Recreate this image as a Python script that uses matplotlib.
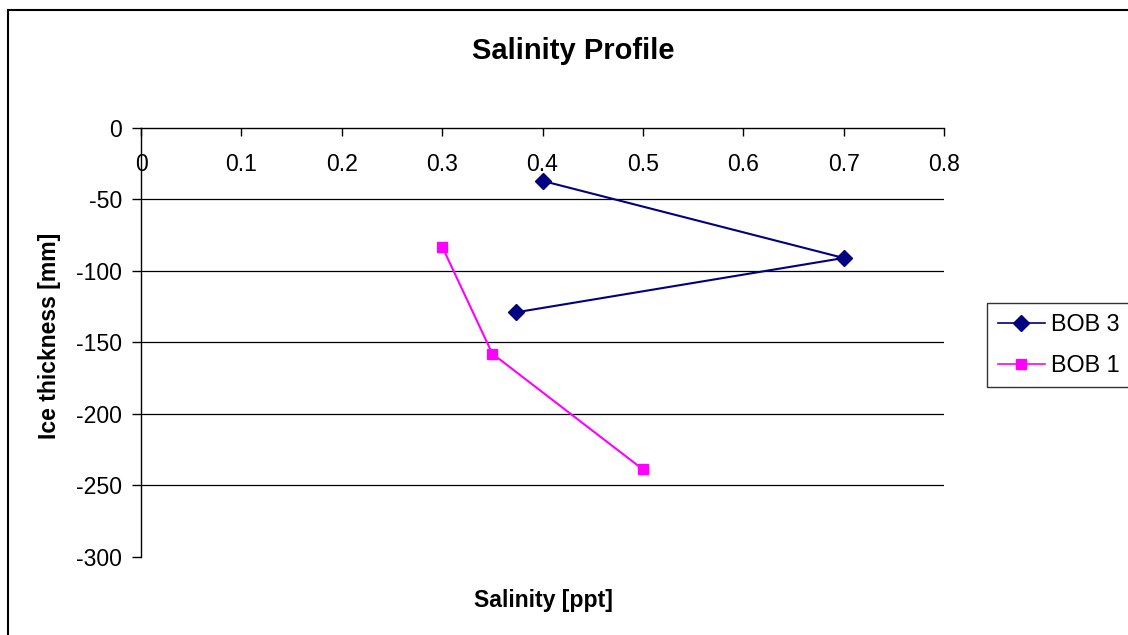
import matplotlib.pyplot as plt
from matplotlib.patches import Rectangle

plt.rcParams['font.family'] = ['Liberation Sans', 'DejaVu Sans']
plt.rcParams['axes.unicode_minus'] = False

# salinity [ppt] vs depth [mm]
bob3_salinity = [0.40, 0.70, 0.374]
bob3_depth = [-37, -91, -129]
bob1_salinity = [0.30, 0.35, 0.50]
bob1_depth = [-83, -158, -239]

x_ticks = [0, 0.1, 0.2, 0.3, 0.4, 0.5, 0.6, 0.7, 0.8]
y_ticks = [-300, -250, -200, -150, -100, -50, 0]

fig = plt.figure(figsize=(11.28, 6.35), dpi=100)
ax = fig.add_axes([0.125, 0.1236, 0.7119, 0.6748])

ax.plot(bob3_salinity, bob3_depth, color='#000080', lw=1.5,
        marker='D', ms=8, label='BOB 3')
ax.plot(bob1_salinity, bob1_depth, color='#FF00FF', lw=1.5,
        marker='s', ms=7, label='BOB 1')

ax.set_xlim(0, 0.8)
ax.set_ylim(-300, 0)
ax.set_xticks(x_ticks)
ax.set_xticklabels([f'{v:g}' for v in x_ticks])
ax.set_yticks(y_ticks)

# x axis sits on the zero line at the top
ax.spines['bottom'].set_position(('data', 0))
ax.spines['top'].set_visible(False)
ax.spines['right'].set_visible(False)
for s in ('bottom', 'left'):
    ax.spines[s].set_linewidth(1.0)
    ax.spines[s].set_color('black')

ax.tick_params(axis='x', direction='out', length=6, width=1, pad=12, labelsize=16.6)
ax.tick_params(axis='y', direction='out', length=6.5, width=1, pad=7, labelsize=16.6)

ax.yaxis.grid(True, color='black', lw=0.9)
gl = ax.get_ygridlines()
gl[0].set_visible(False)
gl[-1].set_visible(False)
ax.set_axisbelow(True)

fig.text(573 / 1128, 1 - 51 / 635, 'Salinity Profile', ha='center', va='center',
         fontsize=21, fontweight='bold')
fig.text(543 / 1128, 1 - 601 / 635, 'Salinity [ppt]', ha='center', va='center',
         fontsize=16.6, fontweight='bold')
fig.text(50 / 1128, 1 - 336 / 635, 'Ice thickness [mm]', ha='center', va='center',
         rotation=90, fontsize=16.6, fontweight='bold')

leg = fig.legend(loc='upper left', bbox_to_anchor=(987 / 1128, 1 - 303 / 635),
                 fontsize=16.8, frameon=True, fancybox=False, borderaxespad=0,
                 handlelength=2.05, handletextpad=0.25, labelspacing=0.75,
                 borderpad=0.45)
leg.get_frame().set_edgecolor('black')
leg.get_frame().set_linewidth(1.0)
for h in leg.get_lines():
    h.set_linewidth(1.2)

# chart area border (cut off on the right and bottom)
fig.add_artist(Rectangle((8 / 1128, -0.1), 1.5, 1 - 10 / 635 + 0.1,
                         transform=fig.transFigure, fill=False,
                         edgecolor='black', lw=1.5))

fig.savefig('out.png', dpi=100)
